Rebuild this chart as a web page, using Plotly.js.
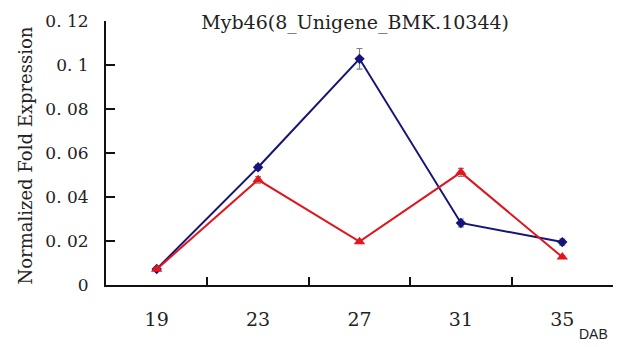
<!DOCTYPE html>
<html><head><meta charset="utf-8">
<script src="https://cdn.plot.ly/plotly-3.0.1.min.js"></script>
<style>html,body{margin:0;padding:0;background:#fff;}#chart{width:623px;height:347px;}</style>
</head><body><div id="chart"></div>
<script>
const categories = ["19", "23", "27", "31", "35"];
const blueValues = [0.0073, 0.0535, 0.1028, 0.0282, 0.0195];
const blueErrors = [0.0005, 0.0012, 0.0047, 0.0018, 0.0014];
const redValues  = [0.0072, 0.0478, 0.0197, 0.0512, 0.0127];
const redErrors  = [0.0005, 0.0015, 0.0005, 0.0018, 0.0005];
const yTickVals  = [0, 0.02, 0.04, 0.06, 0.08, 0.1, 0.12];
const yTickText  = ["0", "0. 02", "0. 04", "0. 06", "0. 08", "0. 1", "0. 12"];

const serif = '"DejaVu Serif", "Liberation Serif", serif';
const traces = [
  {x: categories, y: blueValues, type: 'scatter', mode: 'lines+markers',
   line: {color: '#14147a', width: 2},
   marker: {symbol: 'diamond', size: 8, color: '#14147a'},
   error_y: {type: 'data', array: blueErrors, visible: true, color: '#808080', thickness: 1.2, width: 3}},
  {x: categories, y: redValues, type: 'scatter', mode: 'lines+markers',
   line: {color: '#e0161e', width: 2},
   marker: {symbol: 'triangle-up', size: 10, color: '#e8141c'},
   error_y: {type: 'data', array: redErrors, visible: true, color: '#808080', thickness: 1.2, width: 3}}
];

const layout = {
  width: 623, height: 347,
  margin: {l: 106, r: 10, t: 21, b: 62},
  paper_bgcolor: '#fff', plot_bgcolor: '#fff',
  showlegend: false,
  title: {text: 'Myb46(8_Unigene_BMK.10344)', x: 0.57, xref: 'container', xanchor: 'center',
          y: 0.937, yref: 'container', yanchor: 'middle',
          font: {family: serif, size: 19, color: '#222'}},
  xaxis: {type: 'category', range: [-0.5, 4.5], tickson: 'boundaries',
          ticks: 'inside', ticklen: 8, tickwidth: 2, tickcolor: '#111',
          showline: true, linecolor: '#111', linewidth: 2, showgrid: false, zeroline: false,
          tickfont: {family: serif, size: 19, color: '#222'}, ticklabelstandoff: 16,
          fixedrange: true},
  yaxis: {range: [0, 0.12], tickvals: yTickVals, ticktext: yTickText,
          ticks: 'inside', ticklen: 9, tickwidth: 2, tickcolor: '#111',
          showline: true, linecolor: '#111', linewidth: 2, showgrid: false, zeroline: false,
          tickfont: {family: serif, size: 17, color: '#222'}, ticklabelstandoff: 12,
          fixedrange: true},
  annotations: [
    {text: 'Normalized Fold Expression', xref: 'paper', yref: 'paper', x: -0.158, y: 0.49,
     textangle: -90, showarrow: false, xanchor: 'center', yanchor: 'middle',
     font: {family: serif, size: 18, color: '#222'}},
    {text: 'DAB', xref: 'paper', yref: 'paper', x: 0.995, y: -0.185, showarrow: false,
     xanchor: 'right', yanchor: 'middle',
     font: {family: '"Liberation Sans Narrow", "Liberation Sans", sans-serif', size: 14, color: '#222'}}
  ]
};
Plotly.newPlot('chart', traces, layout, {staticPlot: true});
</script></body></html>
